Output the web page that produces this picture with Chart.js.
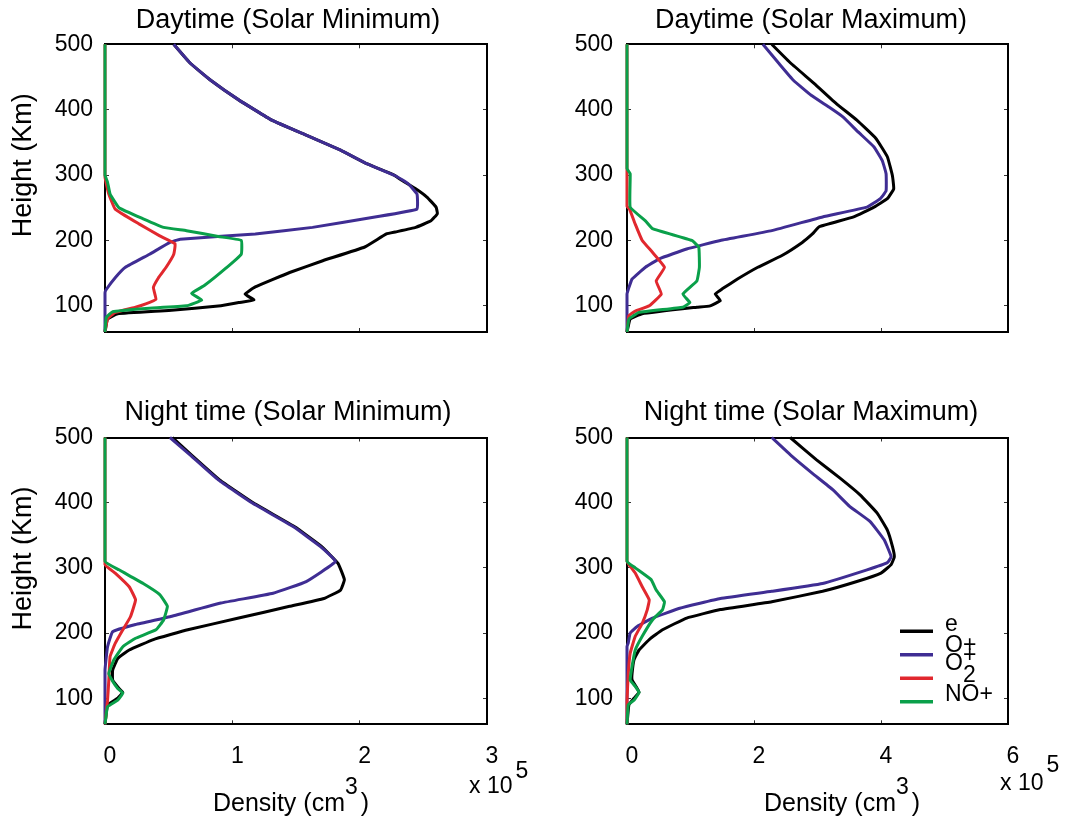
<!DOCTYPE html>
<html>
<head>
<meta charset="utf-8">
<script src="https://cdn.jsdelivr.net/npm/chart.js@4.4.0/dist/chart.umd.min.js"></script>
<style>
  html, body { margin: 0; padding: 0; background: #fff; overflow: hidden; }
  #wrap { position: relative; width: 1068px; height: 822px; }
  canvas { position: absolute; }
</style>
</head>
<body>
<div id="wrap">
  <canvas id="c-day-min"></canvas>
  <canvas id="c-day-max"></canvas>
  <canvas id="c-night-min"></canvas>
  <canvas id="c-night-max"></canvas>
</div>
<script>
// ticks
const heightTicks = [100, 200, 300, 400, 500];
const minTicks = [0, 1, 2, 3];
const maxTicks = [0, 2, 4, 6];

const seriesNames = ['e', 'O+', 'O2+', 'NO+'];
const legendLabels = ['e', 'O+', 'O_2^+', 'NO+'];   // _ = subscript, ^ = superscript
const seriesColors = ['#000000', '#3f2d93', '#e1282e', '#0aa04a'];

// [density (x 1e5 cm-3), height (km)]
// Daytime, solar minimum
const dayMinE = [[0,60],[0.02,80],[0.1,88],[0.5,93],[0.91,100],[1.05,105],[1.17,109],[1.10,118],[1.18,129],
  [1.45,151],[1.71,169],[2.04,190],[2.21,210],[2.28,213],[2.44,220],[2.56,230],[2.61,241],[2.60,251],
  [2.53,266],[2.44,279],[2.33,292],[2.27,300],[2.06,317],[1.85,338],[1.58,361],[1.31,384],[1.05,415],
  [0.83,445],[0.67,471],[0.54,500]];
const dayMinOp = [[0,60],[0,120],[0.01,125],[0.08,143],[0.16,159],[0.35,179],[0.51,197],[0.59,202],
  [1.18,210],[1.63,220],[2.12,236],[2.45,248],[2.45,271],[2.38,287],[2.28,299],[2.06,317],[1.85,338],
  [1.58,361],[1.31,384],[1.05,415],[0.83,445],[0.67,471],[0.54,500]];
const dayMinO2p = [[0,60],[0.02,80],[0.08,90],[0.24,98],[0.32,103],[0.40,110],[0.38,128],[0.42,143],
  [0.48,159],[0.54,179],[0.55,195],[0.43,207],[0.27,225],[0.08,248],[0.03,271],[0,297],[0,500]];
const dayMinNOp = [[0,60],[0.01,82],[0.06,91],[0.32,96],[0.64,100],[0.76,109],[0.68,119],[0.78,131],
  [0.94,156],[1.07,179],[1.07,200],[0.89,206],[0.64,215],[0.46,220],[0.30,233],[0.11,250],[0.04,271],
  [0.02,289],[0,300],[0,500]];

// Daytime, solar maximum
const dayMaxE = [[0,60],[0.05,80],[0.24,88],[1.10,98],[1.31,100],[1.47,108],[1.39,118],[1.50,126],
  [1.74,141],[2.06,159],[2.44,177],[2.76,197],[2.92,210],[3.03,221],[3.57,236],[3.89,251],[4.10,264],
  [4.20,279],[4.18,299],[4.10,328],[3.92,356],[3.62,384],[3.30,409],[2.95,440],[2.58,471],[2.28,500]];
const dayMaxOp = [[0,60],[0,118],[0.02,125],[0.08,141],[0.29,159],[0.51,172],[0.94,187],[1.47,200],
  [2.28,215],[3.08,236],[3.78,251],[3.99,264],[4.08,276],[4.08,302],[4.02,322],[3.89,343],[3.64,366],
  [3.40,389],[3.18,404],[2.90,422],[2.62,445],[2.39,471],[2.14,500]];
const dayMaxO2p = [[0,60],[0.03,85],[0.13,92],[0.35,100],[0.54,118],[0.46,138],[0.59,159],[0.40,182],
  [0.24,200],[0.13,225],[0.04,248],[0,252],[0,500]];
const dayMaxNOp = [[0,60],[0.03,80],[0.19,90],[0.88,98],[0.99,105],[0.88,118],[1.10,138],[1.14,159],
  [1.13,190],[1.02,200],[0.40,218],[0.29,230],[0.05,251],[0.05,302],[0,310],[0,500]];

// Night time, solar minimum
const nightMinE = [[0,60],[0.02,90],[0.10,100],[0.14,109],[0.11,115],[0.06,128],[0.06,143],[0.10,161],
  [0.19,174],[0.38,190],[0.65,205],[1.05,223],[1.45,241],[1.72,253],[1.85,266],[1.88,282],[1.83,307],
  [1.70,333],[1.49,363],[1.17,399],[0.90,435],[0.68,473],[0.53,500]];
const nightMinOp = [[0,60],[0,143],[0.02,179],[0.06,202],[0.24,213],[0.51,225],[0.91,246],[1.32,261],
  [1.58,279],[1.81,310],[1.69,333],[1.48,363],[1.16,399],[0.89,435],[0.67,473],[0.51,500]];
const nightMinO2p = [[0,60],[0.02,97],[0.03,128],[0.04,164],[0.08,184],[0.14,205],[0.20,225],[0.24,251],
  [0.19,271],[0.08,292],[0,305],[0,500]];
const nightMinNOp = [[0,60],[0.02,87],[0.10,97],[0.14,108],[0.10,115],[0.06,126],[0.03,138],[0.07,159],
  [0.14,179],[0.24,192],[0.40,205],[0.46,220],[0.49,241],[0.43,259],[0.30,276],[0.11,297],[0,310],[0,500]];

// Night time, solar maximum
const nightMaxE = [[0,60],[0.03,90],[0.11,100],[0.19,109],[0.16,115],[0.08,128],[0.08,138],[0.11,159],
  [0.19,174],[0.35,190],[0.56,205],[0.94,223],[1.47,236],[2.28,248],[3.08,264],[3.62,279],[4.00,292],
  [4.16,305],[4.21,317],[4.18,333],[4.10,358],[3.94,384],[3.67,412],[3.35,438],[2.98,466],[2.57,500]];
const nightMaxOp = [[0,60],[0,179],[0.02,185],[0.05,200],[0.16,210],[0.40,223],[0.83,238],[1.47,253],
  [2.28,264],[3.08,276],[3.78,297],[4.10,308],[4.16,317],[4.05,343],[3.83,371],[3.51,394],[3.24,420],
  [2.92,445],[2.60,471],[2.28,500]];
const nightMaxO2p = [[0,60],[0,97],[0.02,138],[0.05,169],[0.13,195],[0.24,215],[0.32,236],[0.35,251],
  [0.24,271],[0.13,292],[0.03,305],[0,310],[0,500]];
const nightMaxNOp = [[0,60],[0.02,90],[0.11,97],[0.19,109],[0.13,118],[0.05,128],[0.08,149],[0.13,174],
  [0.24,195],[0.40,220],[0.56,236],[0.59,248],[0.46,266],[0.38,282],[0.13,300],[0,310],[0,500]];

const FONT = '"Liberation Sans", Arial, Helvetica, sans-serif';
Chart.defaults.font.family = FONT;
Chart.defaults.color = '#000';

function font(size) { return size + 'px ' + FONT; }

// texte en plus : titre Y, titre X avec exposant, multiplicateur, légende
const extrasPlugin = {
  id: 'extras',
  afterDraw(chart, args, o) {
    const ctx = chart.ctx, a = chart.chartArea;
    ctx.save();
    ctx.fillStyle = '#000';
    ctx.textBaseline = 'middle';

    if (o.yTitle) {
      ctx.save();
      ctx.translate(a.left + o.yTitle.dx, a.top + o.yTitle.dy);
      ctx.rotate(-Math.PI / 2);
      ctx.font = font(27);
      ctx.textAlign = 'center';
      ctx.fillText(o.yTitle.text, 0, 0);
      ctx.restore();
    }

    ctx.textAlign = 'left';
    if (o.xTitle) {
      let x = a.left + o.xTitle.dx;
      const y = a.bottom + o.xTitle.dy;
      ctx.font = font(25);
      ctx.fillText(o.xTitle.text, x, y);
      x += ctx.measureText(o.xTitle.text).width;
      ctx.font = font(23);
      ctx.fillText(o.xTitle.sup, x, y - 17);
      x += ctx.measureText(o.xTitle.sup).width + 3;
      ctx.font = font(25);
      ctx.fillText(o.xTitle.end, x, y);
    }

    if (o.mult) {
      let x = a.right + o.mult.dx;
      ctx.font = font(23);
      ctx.fillText(o.mult.text, x, a.bottom + o.mult.dy);
      x += ctx.measureText(o.mult.text).width + 3;
      ctx.fillText(o.mult.sup, x, a.bottom + o.mult.supDy);
    }

    if (o.legend) {
      const L = o.legend;
      chart.data.datasets.forEach((ds, i) => {
        const y = a.bottom + L.dy + i * L.step;
        ctx.strokeStyle = ds.borderColor;
        ctx.lineWidth = 3.5;
        ctx.beginPath();
        ctx.moveTo(a.right + L.x1, y);
        ctx.lineTo(a.right + L.x2, y);
        ctx.stroke();
        drawTex(ctx, legendLabels[i], a.right + L.tx, y + L.textDy[i]);
      });
    }
    ctx.restore();
  }
};

// petit rendu indice / exposant façon matlab
function drawTex(ctx, s, x, y) {
  ctx.font = font(23);
  let cx = x, lastW = 0;
  for (let k = 0; k < s.length; k++) {
    const c = s[k];
    if ((c === '_' || c === '^') && k + 1 < s.length) {
      const ch = s[k + 1];
      const dy = c === '_' ? 12 : -8;
      ctx.fillText(ch, cx, y + dy);
      lastW = Math.max(lastW, ctx.measureText(ch).width);
      k++;
      continue;
    }
    cx += lastW; lastW = 0;
    ctx.fillText(c, cx, y);
    cx += ctx.measureText(c).width;
  }
}

function makeChart(p) {
  const canvas = document.getElementById(p.id);
  canvas.width = p.w; canvas.height = p.h;
  canvas.style.left = p.left + 'px';
  canvas.style.top = p.top + 'px';

  const grid = { drawOnChartArea: false, drawTicks: true, tickLength: -4, color: '#333', lineWidth: 1 };
  const border = { display: true, color: '#000', width: 2 };
  const setX = s => { s.ticks = p.xTicks.map(v => ({ value: v })); };
  const setY = s => { s.ticks = heightTicks.map(v => ({ value: v })); };

  new Chart(canvas, {
    type: 'scatter',
    data: {
      datasets: p.series.map((s, i) => ({
        label: seriesNames[i],
        data: s.map(d => ({ x: d[0], y: d[1] })),
        showLine: true,
        borderColor: seriesColors[i],
        backgroundColor: seriesColors[i],
        borderWidth: 3,
        pointRadius: 0,
        tension: 0.1,
        clip: false,
        order: 3 - i
      }))
    },
    options: {
      responsive: false,
      animation: false,
      events: [],
      layout: { padding: 0 },
      plugins: {
        legend: { display: false },
        tooltip: { enabled: false },
        title: {
          display: true, text: p.title, color: '#000',
          font: { size: 27, weight: 'normal', lineHeight: 1.2 },
          padding: p.titlePad
        },
        extras: p.extras
      },
      scales: {
        x: {
          type: 'linear', position: 'bottom', min: 0, max: p.xMax,
          afterBuildTicks: setX,
          afterFit: s => { s.height = p.bottomBox; },
          ticks: { display: p.showX, font: { size: 23 }, padding: 23, labelOffset: 5, maxRotation: 0 },
          grid, border
        },
        x2: {
          type: 'linear', axis: 'x', position: 'top', min: 0, max: p.xMax,
          afterBuildTicks: setX,
          afterFit: s => { s.height = 0; },
          ticks: { display: false },
          grid, border
        },
        y: {
          type: 'linear', position: 'left', min: 60, max: 500,
          afterBuildTicks: setY,
          afterFit: s => { s.width = p.leftBox; },
          ticks: { font: { size: 23 }, padding: p.yPad },
          grid, border
        },
        y2: {
          type: 'linear', axis: 'y', position: 'right', min: 60, max: 500,
          afterBuildTicks: setY,
          afterFit: s => { s.width = p.rightBox; },
          ticks: { display: false },
          grid, border
        }
      }
    },
    plugins: [extrasPlugin]
  });
}

const yTitle = { text: 'Height (Km)', dx: -81, dy: 121 };

makeChart({
  id: 'c-day-min', left: 0, top: 0, w: 576, h: 380,
  title: 'Daytime (Solar Minimum)', titlePad: { top: 4.3, bottom: 7.6 },
  leftBox: 105, rightBox: 89, bottomBox: 48, yPad: 16,
  xMax: 3, xTicks: minTicks, showX: false,
  series: [dayMinE, dayMinOp, dayMinO2p, dayMinNOp],
  extras: { yTitle }
});
makeChart({
  id: 'c-day-max', left: 560, top: 0, w: 502, h: 380,
  title: 'Daytime (Solar Maximum)', titlePad: { top: 4.3, bottom: 7.6 },
  leftBox: 67, rightBox: 54, bottomBox: 48, yPad: 18,
  xMax: 6, xTicks: maxTicks, showX: false,
  series: [dayMaxE, dayMaxOp, dayMaxO2p, dayMaxNOp],
  extras: {}
});
makeChart({
  id: 'c-night-min', left: 0, top: 390, w: 576, h: 432,
  title: 'Night time (Solar Minimum)', titlePad: { top: 6.4, bottom: 8.7 },
  leftBox: 105, rightBox: 89, bottomBox: 97.7, yPad: 16,
  xMax: 3, xTicks: minTicks, showX: true,
  series: [nightMinE, nightMinOp, nightMinO2p, nightMinNOp],
  extras: {
    yTitle,
    xTitle: { text: 'Density (cm', sup: '3', end: ')', dx: 108, dy: 80 },
    mult: { text: 'x 10', sup: '5', dx: -18, dy: 62, supDy: 47 }
  }
});
makeChart({
  id: 'c-night-max', left: 560, top: 390, w: 502, h: 432,
  title: 'Night time (Solar Maximum)', titlePad: { top: 6.4, bottom: 8.7 },
  leftBox: 67, rightBox: 54, bottomBox: 97.7, yPad: 18,
  xMax: 6, xTicks: maxTicks, showX: true,
  series: [nightMaxE, nightMaxOp, nightMaxO2p, nightMaxNOp],
  extras: {
    xTitle: { text: 'Density (cm', sup: '3', end: ')', dx: 137, dy: 80 },
    mult: { text: 'x 10', sup: '5', dx: -8, dy: 59, supDy: 41 },
    legend: { x1: -108, x2: -75, tx: -63, dy: -93, step: 23.5, textDy: [-7, -9, -15, -7] }
  }
});
</script>
</body>
</html>
